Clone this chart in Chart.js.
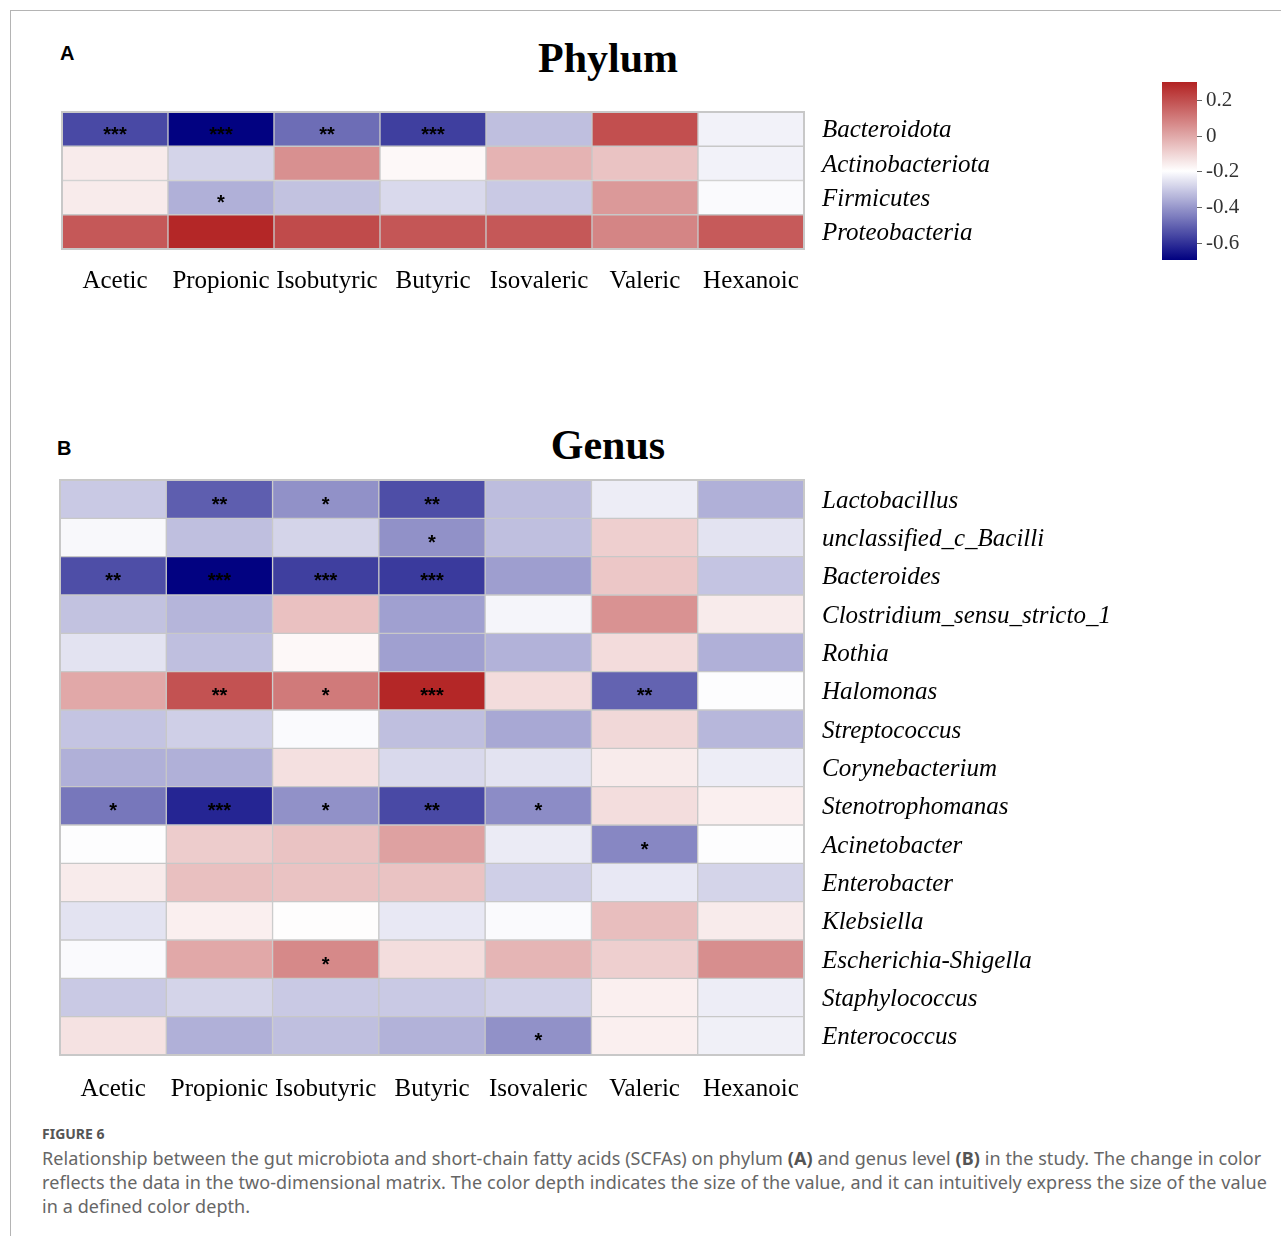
<!DOCTYPE html>
<html>
<head>
<meta charset="utf-8">
<script src="https://cdn.jsdelivr.net/npm/chart.js@4.4.0/dist/chart.umd.min.js"></script>
<style>
  html, body { margin: 0; padding: 0; background: #fff; width: 1281px; height: 1236px; overflow: hidden; }
  .frame { position: absolute; left: 10px; top: 10px; width: 1280px; height: 1240px;
           border-left: 1px solid #b4b4b4; border-top: 1px solid #b4b4b4; }
  .letter { position: absolute; font: bold 20px "Liberation Sans", Arial, sans-serif; line-height: 20px; color: #000; }
  .title { position: absolute; width: 400px; text-align: center; font: bold 42px "Liberation Serif", "Times New Roman", serif;
           line-height: 42px; color: #000; }
  canvas { position: absolute; }
  .fig { position: absolute; left: 42px; top: 1124px; font: bold 14px "Noto Sans", sans-serif; color: #555; }
  .caption { position: absolute; left: 42px; top: 1146px; font: 18px "Noto Sans", sans-serif; line-height: 24px; color: #666;
             letter-spacing: 0.08px; white-space: nowrap; }
  .caption b { color: #555; }
</style>
</head>
<body>
<div class="frame"></div>

<div class="letter" style="left:60px; top:43px;">A</div>
<div class="title" style="left:408px; top:37px;">Phylum</div>
<canvas id="phylumChart" width="1060" height="210" style="left:60px; top:110px;"></canvas>
<canvas id="scaleBar" width="120" height="185" style="left:1160px; top:80px;"></canvas>

<div class="letter" style="left:57px; top:438px;">B</div>
<div class="title" style="left:408px; top:424px;">Genus</div>
<canvas id="genusChart" width="1082" height="640" style="left:58px; top:478px;"></canvas>

<div class="fig">FIGURE 6</div>
<div class="caption">Relationship between the gut microbiota and short-chain fatty acids (SCFAs) on phylum <b>(A)</b> and genus level <b>(B)</b> in the study. The change in color<br>reflects the data in the two-dimensional matrix. The color depth indicates the size of the value, and it can intuitively express the size of the value<br>in a defined color depth.</div>

<script>
// short-chain fatty acids (columns)
const acids = ['Acetic', 'Propionic', 'Isobutyric', 'Butyric', 'Isovaleric', 'Valeric', 'Hexanoic'];

// phylum level
const phyla = ['Bacteroidota', 'Actinobacteriota', 'Firmicutes', 'Proteobacteria'];
const phylumValues = [
  [-0.55, -0.69, -0.48, -0.57, -0.32,  0.20, -0.22],
  [-0.15, -0.28,  0.055, -0.18, -0.025, -0.06, -0.22],
  [-0.15, -0.35, -0.315, -0.27, -0.30,  0.035, -0.205],
  [ 0.18,  0.29,  0.21,  0.185, 0.18,  0.08,  0.175]
];
const phylumSig = [
  ['***', '***', '**', '***', '', '', ''],
  ['', '', '', '', '', '', ''],
  ['', '*', '', '', '', '', ''],
  ['', '', '', '', '', '', '']
];

// genus level
const genera = ['Lactobacillus', 'unclassified_c_Bacilli', 'Bacteroides', 'Clostridium_sensu_stricto_1', 'Rothia',
  'Halomonas', 'Streptococcus', 'Corynebacterium', 'Stenotrophomanas', 'Acinetobacter', 'Enterobacter',
  'Klebsiella', 'Escherichia-Shigella', 'Staphylococcus', 'Enterococcus'];
const genusValues = [
  [-0.30, -0.51, -0.41, -0.54, -0.325, -0.23, -0.35],
  [-0.21, -0.32, -0.28, -0.41, -0.32, -0.087, -0.25],
  [-0.54, -0.69, -0.57, -0.58, -0.385, -0.07, -0.31],
  [-0.315, -0.34, -0.057, -0.38, -0.215, 0.05, -0.15],
  [-0.25, -0.32, -0.18, -0.38, -0.345, -0.117, -0.35],
  [0.0, 0.195, 0.105, 0.29, -0.117, -0.50, -0.2],
  [-0.31, -0.29, -0.205, -0.32, -0.365, -0.107, -0.335],
  [-0.35, -0.35, -0.125, -0.27, -0.25, -0.15, -0.23],
  [-0.46, -0.62, -0.41, -0.55, -0.42, -0.12, -0.16],
  [-0.2, -0.08, -0.06, 0.015, -0.235, -0.43, -0.2],
  [-0.15, -0.053, -0.06, -0.06, -0.29, -0.24, -0.28],
  [-0.25, -0.16, -0.19, -0.24, -0.205, -0.05, -0.15],
  [-0.205, 0.0, 0.07, -0.12, -0.03, -0.087, 0.06],
  [-0.30, -0.28, -0.30, -0.30, -0.285, -0.16, -0.23],
  [-0.13, -0.35, -0.32, -0.345, -0.41, -0.16, -0.225]
];
const genusSig = [
  ['', '**', '*', '**', '', '', ''],
  ['', '', '', '*', '', '', ''],
  ['**', '***', '***', '***', '', '', ''],
  ['', '', '', '', '', '', ''],
  ['', '', '', '', '', '', ''],
  ['', '**', '*', '***', '', '**', ''],
  ['', '', '', '', '', '', ''],
  ['', '', '', '', '', '', ''],
  ['*', '***', '*', '**', '*', '', ''],
  ['', '', '', '', '', '*', ''],
  ['', '', '', '', '', '', ''],
  ['', '', '', '', '', '', ''],
  ['', '', '*', '', '', '', ''],
  ['', '', '', '', '', '', ''],
  ['', '', '', '', '*', '', '']
];

// colour scale
const scaleMin = -0.693;
const scaleMax = 0.302;
const scaleTicks = [0.2, 0, -0.2, -0.4, -0.6];
const scaleLabels = ['0.2', '0', '-0.2', '-0.4', '-0.6'];

const LOW = [0, 0, 128], MID = [255, 255, 255], HIGH = [178, 34, 34];
const scaleMid = (scaleMin + scaleMax) / 2;

function mix(a, b, t) {
  return 'rgb(' + a.map((c, i) => Math.round(c + (b[i] - c) * t)).join(',') + ')';
}
function cellColor(v) {
  if (v <= scaleMid) {
    return mix(LOW, MID, Math.max(0, (v - scaleMin) / (scaleMid - scaleMin)));
  }
  return mix(MID, HIGH, Math.min(1, (v - scaleMid) / (scaleMax - scaleMid)));
}

const serif = '"Liberation Serif", "Times New Roman", serif';

// no overflow padding: the plot area is set by the axis sizes alone
function fixSize(s, w, h) {
  if (w !== null) s.width = w;
  if (h !== null) s.height = h;
  s.paddingTop = s.paddingBottom = s.paddingLeft = s.paddingRight = 0;
}

// frame round the matrix + stars on significant cells
const sigLabels = {
  id: 'sigLabels',
  afterDatasetsDraw(chart, args, opts) {
    if (!opts.marks) return;
    const ctx = chart.ctx;
    const a = chart.chartArea;
    ctx.save();
    ctx.strokeStyle = '#c8c8c8';
    ctx.lineWidth = 2;
    ctx.strokeRect(a.left, a.top, a.right - a.left, a.bottom - a.top);
    ctx.font = 'bold 20px "Liberation Sans", Arial, sans-serif';
    ctx.fillStyle = '#000';
    ctx.textAlign = 'center';
    ctx.textBaseline = 'middle';
    opts.marks.forEach((row, r) => {
      const meta = chart.getDatasetMeta(r);
      row.forEach((s, c) => {
        if (!s) return;
        const p = meta.data[c].getProps(['x', 'y', 'base'], true);
        ctx.fillText(s, p.x, (p.y + p.base) / 2 + 6);
      });
    });
    ctx.restore();
  }
};

function heatmap(id, rows, values, marks, axisWidth, axisHeight, labelPad) {
  return new Chart(document.getElementById(id), {
    type: 'bar',
    data: {
      labels: acids,
      datasets: rows.map((name, r) => ({
        label: name,
        data: acids.map(() => [r, r + 1]),
        backgroundColor: values[r].map(cellColor),
        borderColor: '#c8c8c8',
        borderWidth: 1,
        borderSkipped: false,
        grouped: false,
        barPercentage: 1,
        categoryPercentage: 1
      }))
    },
    options: {
      responsive: false,
      animation: false,
      layout: { padding: { left: 2, top: 2, right: 0, bottom: 0 } },
      plugins: {
        legend: { display: false },
        tooltip: { enabled: false },
        sigLabels: { marks: marks }
      },
      scales: {
        x: {
          grid: { display: false, drawTicks: false },
          border: { display: false },
          ticks: { color: '#000', font: { family: serif, size: 25 }, padding: labelPad, maxRotation: 0, autoSkip: false },
          afterFit: s => fixSize(s, null, axisHeight)
        },
        y: {
          type: 'linear',
          position: 'right',
          min: 0,
          max: rows.length,
          reverse: true,
          grid: { display: false, drawTicks: false },
          border: { display: false },
          afterBuildTicks: s => { s.ticks = rows.map((_, i) => ({ value: i + 0.55 })); },
          ticks: {
            color: '#000',
            font: { family: serif, size: 25, style: 'italic' },
            padding: 18,
            autoSkip: false,
            callback: (v, i) => rows[i]
          },
          afterFit: s => fixSize(s, axisWidth, null)
        }
      }
    },
    plugins: [sigLabels]
  });
}

heatmap('phylumChart', phyla, phylumValues, phylumSig, 316, 71, 17);
heatmap('genusChart', genera, genusValues, genusSig, 336, 63, 19);

// colour key
new Chart(document.getElementById('scaleBar'), {
  type: 'bar',
  data: {
    labels: [''],
    datasets: [{
      data: [[scaleMin, scaleMax]],
      borderWidth: 0,
      barPercentage: 1,
      categoryPercentage: 1,
      backgroundColor: ctx => {
        const chart = ctx.chart;
        if (!chart.chartArea) return '#fff';
        const y = chart.scales.y;
        const g = chart.ctx.createLinearGradient(0, y.getPixelForValue(scaleMin), 0, y.getPixelForValue(scaleMax));
        for (let k = 0; k <= 40; k++) {
          g.addColorStop(k / 40, cellColor(scaleMin + (scaleMax - scaleMin) * k / 40));
        }
        return g;
      }
    }]
  },
  options: {
    responsive: false,
    animation: false,
    layout: { padding: { left: 2, top: 2, right: 0, bottom: 5 } },
    plugins: { legend: { display: false }, tooltip: { enabled: false } },
    scales: {
      x: { display: false },
      y: {
        position: 'right',
        min: scaleMin,
        max: scaleMax,
        grid: { display: true, drawOnChartArea: false, drawTicks: true, tickLength: 5, color: '#666' },
        border: { display: false },
        afterBuildTicks: s => { s.ticks = scaleTicks.map(v => ({ value: v })); },
        ticks: {
          color: '#333',
          font: { family: serif, size: 21 },
          padding: 4,
          callback: (v, i) => scaleLabels[i]
        },
        afterFit: s => fixSize(s, 83, null)
      }
    }
  }
});
</script>
</body>
</html>
